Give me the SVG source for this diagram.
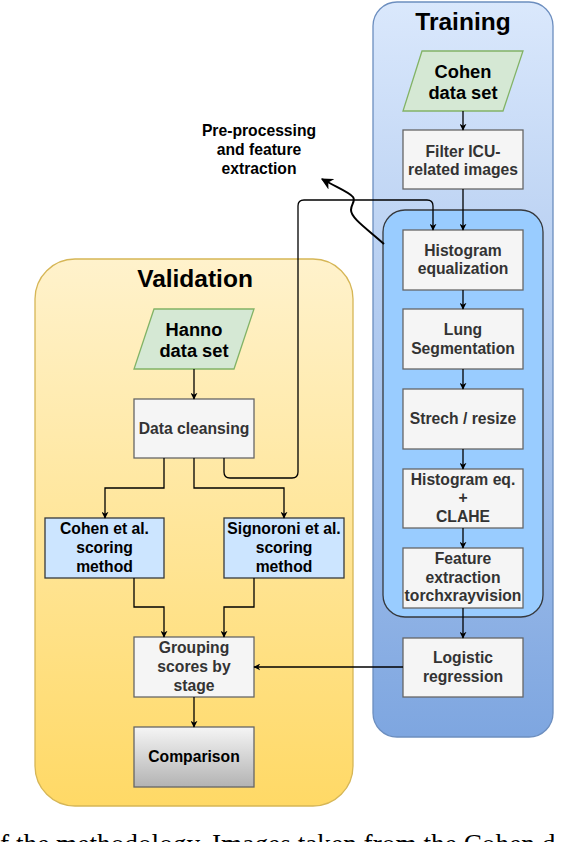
<svg xmlns="http://www.w3.org/2000/svg" width="588" height="842" viewBox="0 0 588 842">
<style>
  text { font-family: "Liberation Sans", Arial, Helvetica, sans-serif; font-weight: bold; text-anchor: middle; }
  .t { font-size: 15.7px; fill: #333333; }
  .tb { font-size: 15.7px; fill: #000000; }
  .big { font-size: 18.3px; fill: #000000; }
  .title { font-size: 24.5px; fill: #000000; }
  .box { fill: #f5f5f5; stroke: #666666; stroke-width: 1.3; }
  .blue { fill: #cce5ff; stroke: #36393d; stroke-width: 1.3; }
  .data { fill: #d5e8d4; stroke: #82b366; stroke-width: 1.3; }
  .conn { fill: none; stroke: #000000; stroke-width: 1.3; marker-end: url(#arr); }
  .caption { font-family: "Liberation Serif", "Times New Roman", serif; font-weight: normal; text-anchor: start; font-size: 27.3px; fill: #000; }
</style>
<defs>
  <linearGradient id="gTrain" x1="0" y1="0" x2="0" y2="1">
    <stop offset="0" stop-color="#dae8fc"/>
    <stop offset="1" stop-color="#7ea6e0"/>
  </linearGradient>
  <linearGradient id="gVal" x1="0" y1="0" x2="0" y2="1">
    <stop offset="0" stop-color="#fff2cc"/>
    <stop offset="1" stop-color="#ffd966"/>
  </linearGradient>
  <linearGradient id="gComp" x1="0" y1="0" x2="0" y2="1">
    <stop offset="0" stop-color="#f5f5f5"/>
    <stop offset="1" stop-color="#b3b3b3"/>
  </linearGradient>
  <marker id="arr" viewBox="0 0 10 10" refX="9" refY="5" markerWidth="7" markerHeight="7" markerUnits="userSpaceOnUse" orient="auto">
    <path d="M0,0 L10,5 L0,10 L3,5 z" fill="#000"/>
  </marker>
  <marker id="arrBig" viewBox="0 0 10 10" refX="9" refY="5" markerWidth="6" markerHeight="6" orient="auto">
    <path d="M0,0 L10,5 L0,10 L3,5 z" fill="#000"/>
  </marker>
</defs>

<g id="training-container">
  <rect x="373" y="2" width="180" height="735" rx="24" ry="24" fill="url(#gTrain)" stroke="#6c8ebf" stroke-width="1.3"/>
  <text class="title" x="463" y="30">Training</text>
</g>
<g id="preprocessing-container">
  <rect x="383" y="210" width="160" height="407" rx="22" ry="22" fill="#99ccff" stroke="#36393d" stroke-width="1.3"/>
</g>
<g id="validation-container">
  <rect x="35" y="259" width="318" height="547" rx="40" ry="40" fill="url(#gVal)" stroke="#d6b656" stroke-width="1.3"/>
  <text class="title" x="195" y="287">Validation</text>
</g>

<g id="cohen-data">
  <polygon class="data" points="422,51 523,51 503,111 403,111"/>
  <text class="big" x="463" y="77.5">Cohen</text>
  <text class="big" x="463" y="98.5">data set</text>
</g>
<g id="filter-icu">
  <rect class="box" x="403" y="130" width="120" height="59"/>
  <text class="t" x="463" y="156.5">Filter ICU-</text>
  <text class="t" x="463" y="175">related images</text>
</g>
<g id="histogram-equalization">
  <rect class="box" x="403" y="230" width="120" height="60"/>
  <text class="t" x="463" y="255.5">Histogram</text>
  <text class="t" x="463" y="274">equalization</text>
</g>
<g id="lung-segmentation">
  <rect class="box" x="403" y="309" width="120" height="60"/>
  <text class="t" x="463" y="335">Lung</text>
  <text class="t" x="463" y="353.5">Segmentation</text>
</g>
<g id="strech-resize">
  <rect class="box" x="403" y="389" width="120" height="60"/>
  <text class="t" x="463" y="423.5">Strech / resize</text>
</g>
<g id="histogram-clahe">
  <rect class="box" x="403" y="469" width="120" height="59"/>
  <text class="t" x="463" y="484.5">Histogram eq.</text>
  <text class="t" x="463" y="503.2">+</text>
  <text class="t" x="463" y="521.9">CLAHE</text>
</g>
<g id="feature-extraction">
  <rect class="box" x="403" y="548" width="120" height="60"/>
  <text class="t" x="463" y="563.8">Feature</text>
  <text class="t" x="463" y="582.5">extraction</text>
  <text class="t" x="463" y="601.2">torchxrayvision</text>
</g>
<g id="logistic-regression">
  <rect class="box" x="403" y="638" width="120" height="59"/>
  <text class="t" x="463" y="663">Logistic</text>
  <text class="t" x="463" y="681.7">regression</text>
</g>

<g id="hanno-data">
  <polygon class="data" points="154,309 254,309 234,369 134,369"/>
  <text class="big" x="194" y="335.7">Hanno</text>
  <text class="big" x="194" y="357.3">data set</text>
</g>
<g id="data-cleansing">
  <rect class="box" x="134" y="399" width="120" height="59"/>
  <text class="t" x="194" y="434">Data cleansing</text>
</g>
<g id="cohen-scoring">
  <rect class="blue" x="45" y="518" width="119" height="60"/>
  <text class="tb" x="104.5" y="534.3">Cohen et al.</text>
  <text class="tb" x="104.5" y="553">scoring</text>
  <text class="tb" x="104.5" y="571.7">method</text>
</g>
<g id="signoroni-scoring">
  <rect class="blue" x="224" y="518" width="120" height="60"/>
  <text class="tb" x="284" y="534.3">Signoroni et al.</text>
  <text class="tb" x="284" y="553">scoring</text>
  <text class="tb" x="284" y="571.7">method</text>
</g>
<g id="grouping-scores">
  <rect class="box" x="134" y="637" width="120" height="60"/>
  <text class="t" x="194" y="653.3">Grouping</text>
  <text class="t" x="194" y="672">scores by</text>
  <text class="t" x="194" y="690.7">stage</text>
</g>
<g id="comparison">
  <rect x="134" y="727" width="120" height="60" fill="url(#gComp)" stroke="#666666" stroke-width="1.3"/>
  <text class="tb" x="194" y="762.3">Comparison</text>
</g>

<g id="preprocessing-label">
  <text class="tb" x="259" y="136">Pre-processing</text>
  <text class="tb" x="259" y="155">and feature</text>
  <text class="tb" x="259" y="173.5">extraction</text>
</g>

<g id="connectors">
  <path class="conn" d="M463,111 V130"/>
  <path class="conn" d="M463,189 V230"/>
  <path class="conn" d="M463,290 V309"/>
  <path class="conn" d="M463,369 V389"/>
  <path class="conn" d="M463,449 V469"/>
  <path class="conn" d="M463,528 V548"/>
  <path class="conn" d="M463,608 V638"/>
  <path class="conn" d="M403,667 H254"/>
  <path class="conn" d="M194,369 V399"/>
  <path class="conn" d="M164,458 V488 H105 V518"/>
  <path class="conn" d="M194,458 V488 H284 V518"/>
  <path class="conn" d="M224,458 V472 Q224,478 230,478 H292 Q298,478 298,472 V206 Q298,200 304,200 H427 Q433,200 433,206 V230"/>
  <path class="conn" d="M134,578 V607 H164 V637"/>
  <path class="conn" d="M254,578 V607 H224 V637"/>
  <path class="conn" d="M194,697 V727"/>
  <path d="M384,244 C366,228 351,218 351,210 C351,204 356,201 353,197 C349,192 338,188 322,179" fill="none" stroke="#000" stroke-width="2" marker-end="url(#arrBig)"/>
</g>

<text class="caption" x="0" y="853">f the methodology. Images taken from the Cohen d</text>
</svg>
